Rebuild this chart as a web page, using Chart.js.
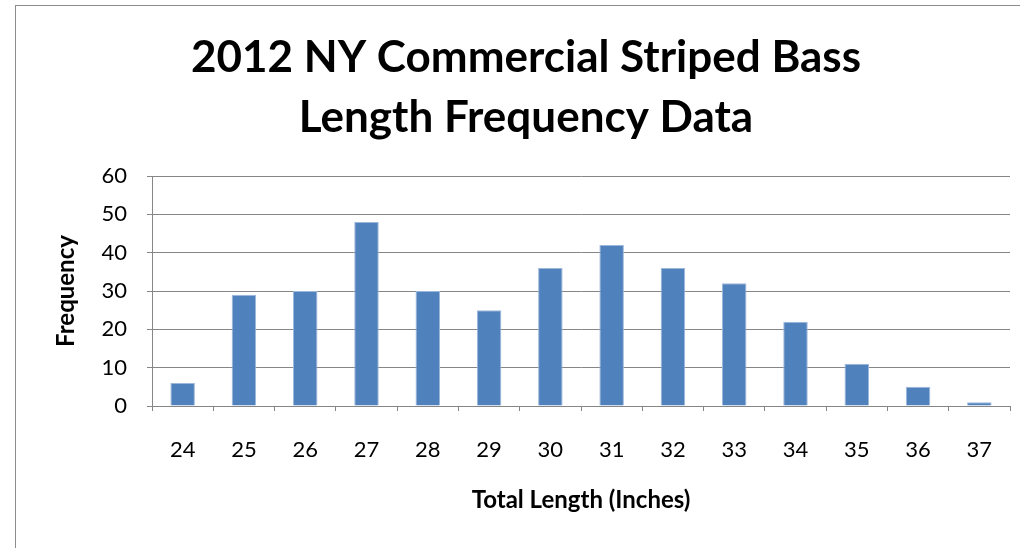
<!DOCTYPE html>
<html>
<head>
<meta charset="utf-8">
<script src="https://cdn.jsdelivr.net/npm/chart.js@4/dist/chart.umd.min.js"></script>
<style>
  html, body { margin: 0; padding: 0; background: #fff; overflow: hidden; }
  #wrap { position: relative; width: 1020px; height: 548px; }
  #frame { position: absolute; left: 15px; top: 5px; width: 1100px; height: 700px;
           border-left: 1px solid #8c8c8c; border-top: 1px solid #8c8c8c; }
  canvas { position: absolute; left: 0; top: 0; }
</style>
</head>
<body>
<div id="wrap">
  <div id="frame"></div>
  <canvas id="c" width="1020" height="548"></canvas>
</div>
<script>
const titleLines = ['2012 NY Commercial Striped Bass', 'Length Frequency Data'];
const categories = ['24','25','26','27','28','29','30','31','32','33','34','35','36','37'];
const frequency = [6, 29, 30, 48, 30, 25, 36, 42, 36, 32, 22, 11, 5, 1];
const yTicks = [0, 10, 20, 30, 40, 50, 60];
const xTitle = 'Total Length (Inches)';
const yTitle = 'Frequency';

const FONT = 'Lato, "Open Sans", sans-serif';
const GRID = '#868686';

new Chart(document.getElementById('c'), {
  type: 'bar',
  data: {
    labels: categories,
    datasets: [{
      data: frequency,
      backgroundColor: '#4F81BD',
      borderColor: '#9DB7DA',
      borderWidth: 1,
      barPercentage: 0.4,
      categoryPercentage: 1.0
    }]
  },
  options: {
    responsive: false,
    animation: false,
    devicePixelRatio: 1,
    layout: { padding: { left: 42, right: 10, top: 0, bottom: 0 } },
    plugins: {
      legend: { display: false },
      tooltip: { enabled: false },
      title: {
        display: true,
        text: titleLines,
        color: '#000',
        font: { family: FONT, size: 44, weight: 'bold', lineHeight: 60 / 44 },
        padding: { top: 28, bottom: 28 }
      }
    },
    scales: {
      x: {
        grid: { display: true, drawOnChartArea: false, drawTicks: true, tickLength: 5, color: GRID, offset: true },
        border: { display: true, color: GRID, width: 1 },
        ticks: { color: '#000', font: { family: FONT, size: 22 }, padding: 26, maxRotation: 0, autoSkip: false },
        title: { display: true, text: xTitle, color: '#000',
                 font: { family: FONT, size: 24, weight: 'bold', lineHeight: 1.2 },
                 padding: { top: 0, bottom: 33 } },
        afterFit: (s) => { s.height = 142; }
      },
      y: {
        min: 0, max: 60,
        afterBuildTicks: (s) => { s.ticks = yTicks.map(v => ({ value: v })); },
        grid: { display: true, drawOnChartArea: true, drawTicks: true, tickLength: 5, color: GRID, lineWidth: 1 },
        border: { display: true, color: GRID, width: 1 },
        ticks: { color: '#000', font: { family: FONT, size: 22 }, padding: 20 },
        title: { display: true, text: yTitle, color: '#000',
                 font: { family: FONT, size: 24, weight: 'bold', lineHeight: 1.2 },
                 padding: { top: 10, bottom: 0 } },
        afterFit: (s) => { s.width = 110; }
      }
    }
  }
});
</script>
</body>
</html>
